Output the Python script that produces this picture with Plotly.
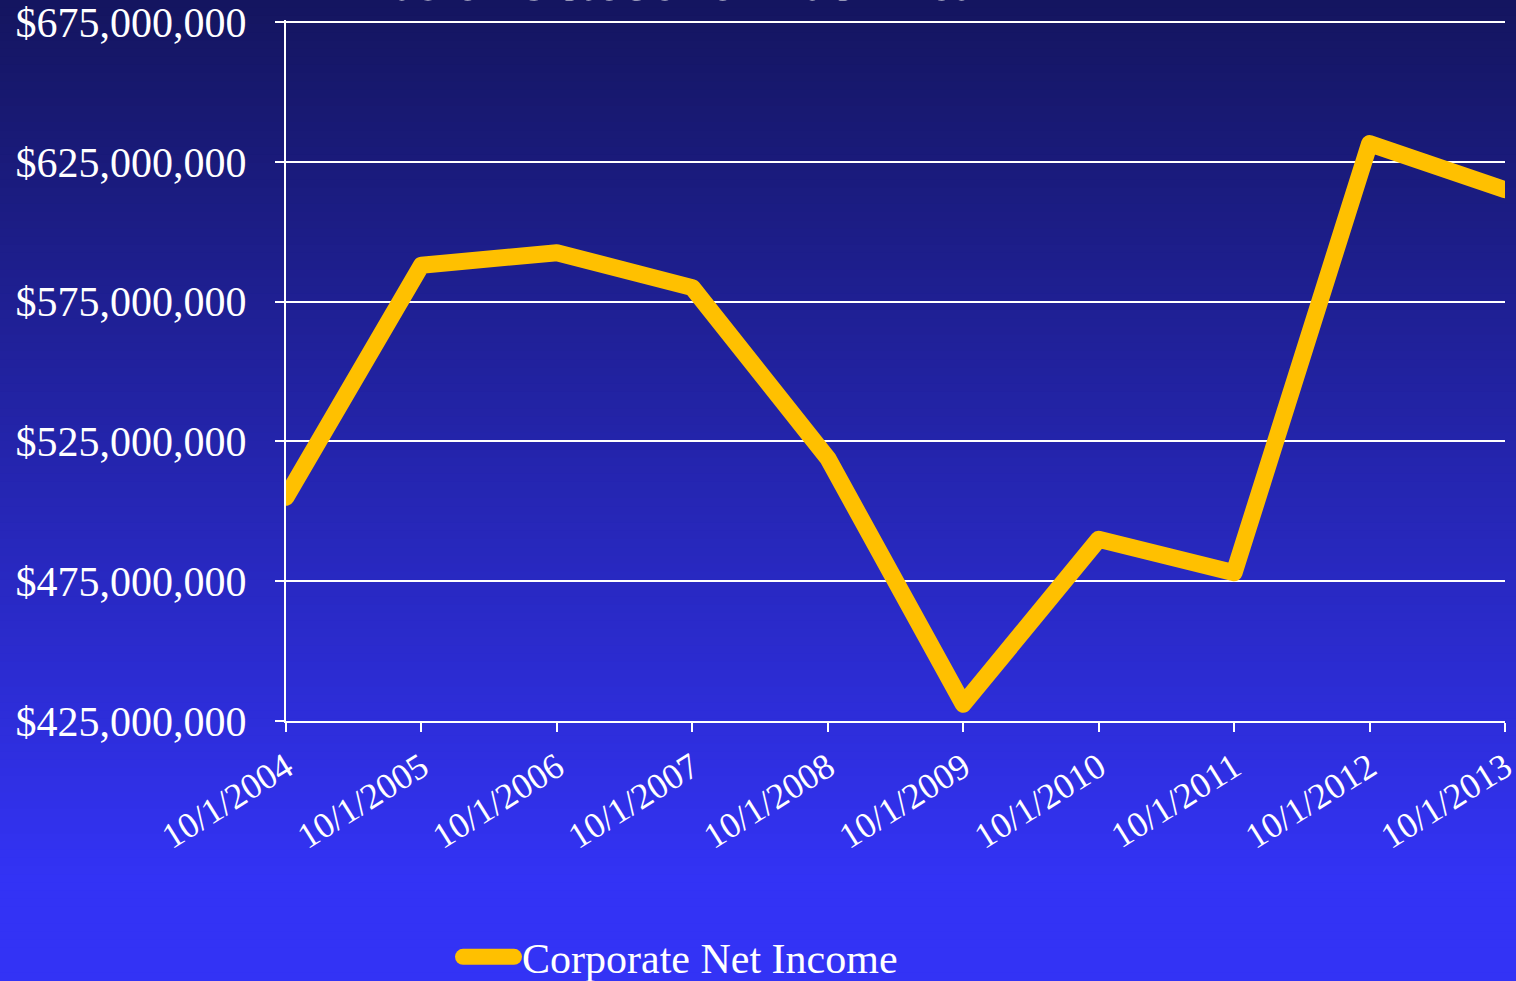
import plotly.graph_objects as go

# data
dates = ["10/1/2004", "10/1/2005", "10/1/2006", "10/1/2007", "10/1/2008",
         "10/1/2009", "10/1/2010", "10/1/2011", "10/1/2012", "10/1/2013"]
net_income = [505e6, 588e6, 592.5e6, 580e6, 519e6,
              431e6, 490e6, 478e6, 631.5e6, 615e6]
series_name = "Corporate Net Income"
y_ticks = [425e6, 475e6, 525e6, 575e6, 625e6, 675e6]

W, H = 1516, 981
ML, MR, MT, MB = 286, 11, 20, 260
pw, ph = W - ML - MR, H - MT - MB
# top tick sits 2px below the plot-area edge so its gridline is kept
per_px = (y_ticks[-1] - y_ticks[0]) / (ph - 2)
y_top = y_ticks[-1] + 2 * per_px

FONT = "Liberation Serif, Times New Roman, serif"
LINE = "#FFC000"

# vertical gradient background built from thin bands
top_rgb = (20, 21, 95)
bot_rgb = (51, 51, 245)
grad_end = 880  # pixel where the gradient reaches full brightness
shapes = []
n_bands = 120
for i in range(n_bands):
    y0px = H * i / n_bands
    y1px = H * (i + 1) / n_bands
    t = min(1.0, ((y0px + y1px) / 2) / grad_end)
    c = tuple(round(a + (b - a) * t) for a, b in zip(top_rgb, bot_rgb))
    shapes.append(dict(
        type="rect", xref="paper", yref="paper", layer="below",
        x0=-ML / pw - 0.01, x1=(W - ML) / pw + 0.01,
        y0=(H - MB - y1px) / ph - 0.0008, y1=(H - MB - y0px) / ph + 0.0008,
        fillcolor="rgb(%d,%d,%d)" % c, line=dict(width=0),
    ))

fig = go.Figure(go.Scatter(
    x=dates, y=net_income, name=series_name, mode="lines",
    line=dict(color=LINE, width=17),
))

fig.update_layout(
    width=W, height=H,
    margin=dict(l=ML, r=MR, t=MT, b=MB, autoexpand=False),
    paper_bgcolor="#3333f5", plot_bgcolor="rgba(0,0,0,0)",
    font=dict(family=FONT, color="white", size=42),
    shapes=shapes,
    showlegend=True,
    legend=dict(orientation="h", xref="container", yref="container",
                x=442 / W, xanchor="left",
                y=(H - 957) / H, yanchor="middle",
                itemwidth=70,
                font=dict(size=42, color="white"), bgcolor="rgba(0,0,0,0)"),
    annotations=[dict(
        text="as of October of Each Year", xref="paper", yref="paper",
        x=(695 - ML) / pw, y=(H - MB - 14) / ph, xanchor="center", yanchor="bottom",
        showarrow=False, font=dict(size=56, color="white", family=FONT),
    )],
)

fig.update_xaxes(
    type="category", range=[0, len(dates) - 1], automargin=False,
    showgrid=False, showline=True, linecolor="white", linewidth=2,
    ticks="outside", ticklen=9, tickwidth=2, tickcolor="white",
    tickangle=-32, ticklabeloverflow="allow",
    tickfont=dict(size=36, color="white", family=FONT),
)
fig.update_yaxes(
    range=[y_ticks[0], y_top], tickvals=y_ticks, tickformat="$,.0f",
    automargin=False, ticklabeloverflow="allow",
    showgrid=True, gridcolor="white", gridwidth=2, zeroline=False,
    showline=True, linecolor="white", linewidth=2,
    ticks="outside", ticklen=9, tickwidth=2, tickcolor="white",
    ticklabelstandoff=20,
    tickfont=dict(size=42, color="white", family=FONT),
)

# full-bleed page, rounded line joins and a longer, thicker legend swatch
post = """
document.body.style.margin = '0px';
document.body.style.overflow = 'hidden';
function tweak() {
  document.querySelectorAll('.scatterlayer path.js-line').forEach(function (p) {
    p.style.strokeLinejoin = 'round';
    p.style.strokeLinecap = 'round';
  });
  document.querySelectorAll('.legend .legendlines path').forEach(function (p) {
    p.setAttribute('d', 'M21,0h51');
    p.style.strokeWidth = '16px';
    p.style.strokeLinecap = 'round';
  });
}
tweak();
setTimeout(tweak, 50);
"""
fig.write_html("out.html", post_script=post, config={"displayModeBar": False})
